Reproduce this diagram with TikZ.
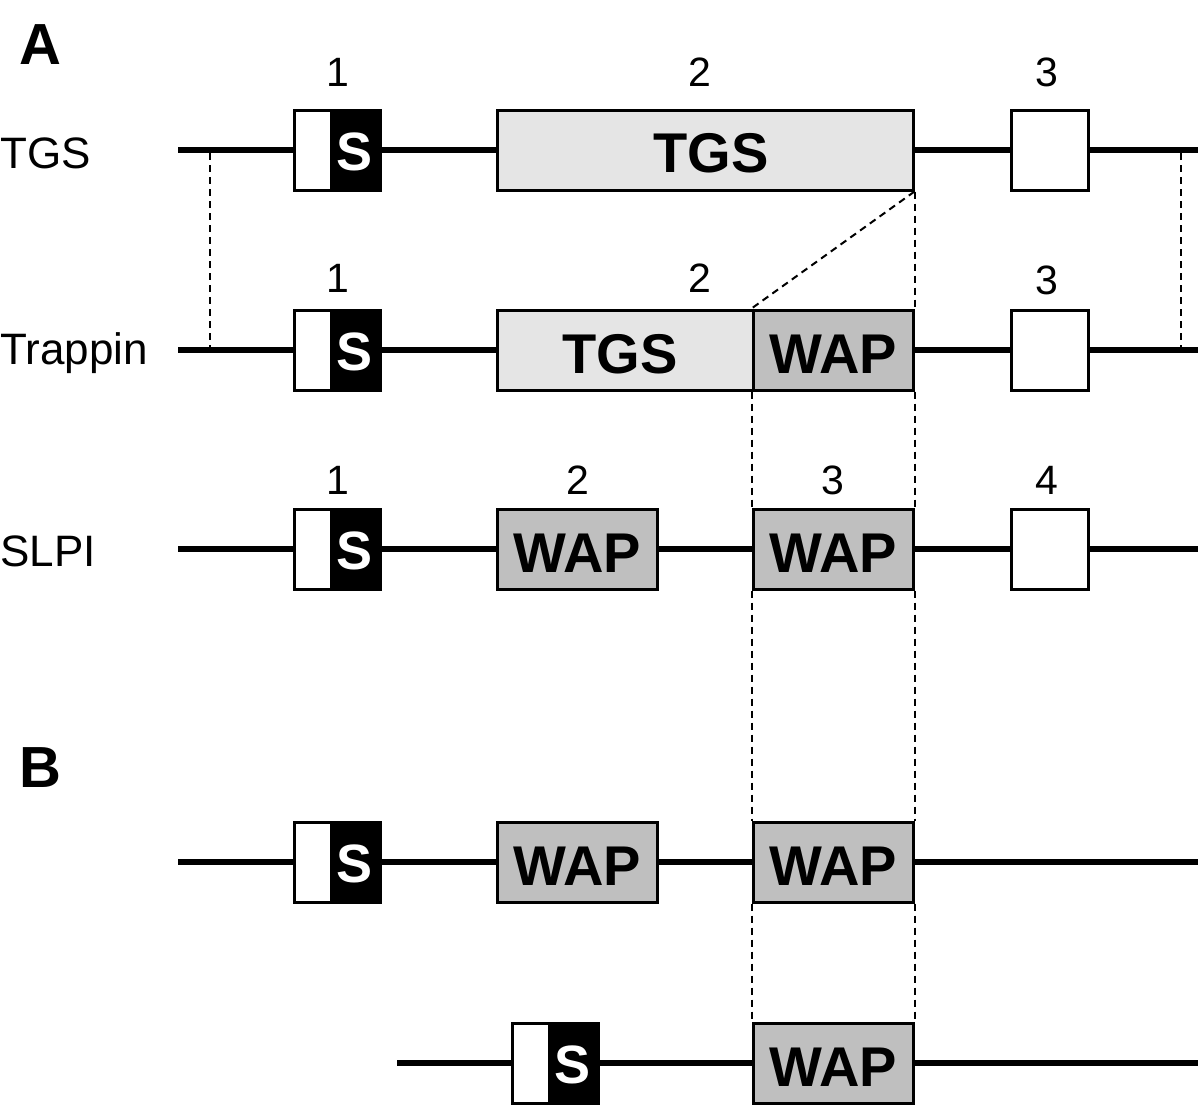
\documentclass[tikz,border=0pt]{standalone}
\usepackage{fontspec}
\setmainfont{Liberation Sans}
\begin{document}
\begin{tikzpicture}[x=1pt,y=-1pt,
  gene/.style={line width=5.5pt},
  bx/.style={draw=black,line width=3pt,inner sep=0pt,minimum height=80pt},
  lgray/.style={bx,fill=black!10},
  dgray/.style={bx,fill=black!25},
  wbox/.style={bx,fill=white},
  sblk/.style={fill=black,text=white,inner sep=0pt,minimum height=80pt,font=\fontsize{54}{54}\selectfont\bfseries},
  dom/.style={font=\fontsize{56}{56}\selectfont\bfseries},
  num/.style={font=\fontsize{41}{41}\selectfont},
  rowlab/.style={font=\fontsize{44}{44}\selectfont,anchor=west,inner sep=0pt},
  panel/.style={font=\fontsize{58}{58}\selectfont\bfseries},
  dsh/.style={line width=2pt,dash pattern=on 7pt off 5pt}]
\useasboundingbox (0,0) rectangle (1200,1111);
\fill[white] (0,0) rectangle (1200,1111);

\node[panel] (pA) at (40,45) {A};
\node[panel] (pB) at (40,768) {B};

% ---------- Row TGS (y=150)
\node[rowlab] (lTGS) at (0,153) {TGS};
\coordinate (t0) at (178,150); \coordinate (t1) at (1198,150);
\draw[gene] (t0) -- (t1);
\node[wbox,minimum width=86pt] (tS) at (337,150) {};
\node[sblk,minimum width=50pt] (tSb) at (355,152) {S};
\draw[line width=3pt] (294,110) rectangle (380,190);
\node[lgray,minimum width=416pt,dom] (tTGS) at (705,150) {};
\node[dom] (tTGSt) at (711,153) {TGS};
\node[wbox,minimum width=77pt] (tE3) at (1049.5,150) {};
\node[num] (n11) at (338,72) {1};
\node[num] (n12) at (700,72) {2};
\node[num] (n13) at (1047,72) {3};

% ---------- Row Trappin (y=350)
\node[rowlab] (lTrap) at (0,353) {Trappin};
\coordinate (r0) at (178,350); \coordinate (r1) at (1198,350);
\draw[gene] (r0) -- (r1);
\node[wbox,minimum width=86pt] (rS) at (337,350) {};
\node[sblk,minimum width=50pt] (rSb) at (355,352) {S};
\draw[line width=3pt] (294,310) rectangle (380,390);
\node[lgray,minimum width=256pt] (rTGS) at (625,350) {};
\node[dom] (rTGSt) at (620,354) {TGS};
\node[dgray,minimum width=160pt,dom] (rWAP) at (833,350) {};
\node[dom] (rWAPt) at (833,354) {WAP};
\node[wbox,minimum width=77pt] (rE3) at (1049.5,350) {};
\node[num] (n21) at (338,278) {1};
\node[num] (n22) at (700,278) {2};
\node[num] (n23) at (1047,280) {3};

% ---------- Row SLPI (y=549)
\node[rowlab] (lSLPI) at (0,551) {SLPI};
\coordinate (s0) at (178,549); \coordinate (s1) at (1198,549);
\draw[gene] (s0) -- (s1);
\node[wbox,minimum width=86pt] (sS) at (337,549) {};
\node[sblk,minimum width=50pt] (sSb) at (355,551) {S};
\draw[line width=3pt] (294,509) rectangle (380,589);
\node[dgray,minimum width=160pt] (sW1) at (577,549) {};
\node[dom] (sW1t) at (577,553) {WAP};
\node[dgray,minimum width=160pt] (sW2) at (833,549) {};
\node[dom] (sW2t) at (833,553) {WAP};
\node[wbox,minimum width=77pt] (sE4) at (1049.5,549) {};
\node[num] (n31) at (338,480) {1};
\node[num] (n32) at (578,480) {2};
\node[num] (n33) at (833,480) {3};
\node[num] (n34) at (1047,480) {4};

% ---------- Row B1 (y=862)
\coordinate (b0) at (178,862); \coordinate (b1) at (1198,862);
\draw[gene] (b0) -- (b1);
\node[wbox,minimum width=86pt] (bS) at (337,862) {};
\node[sblk,minimum width=50pt] (bSb) at (355,864) {S};
\draw[line width=3pt] (294,822) rectangle (380,902);
\node[dgray,minimum width=160pt] (bW1) at (577,862) {};
\node[dom] (bW1t) at (577,866) {WAP};
\node[dgray,minimum width=160pt] (bW2) at (833,862) {};
\node[dom] (bW2t) at (833,866) {WAP};

% ---------- Row B2 (y=1063)
\coordinate (c0) at (397,1063); \coordinate (c1) at (1198,1063);
\draw[gene] (c0) -- (c1);
\node[wbox,minimum width=86pt] (cS) at (555,1063) {};
\node[sblk,minimum width=50pt] (cSb) at (573,1065) {S};
\draw[line width=3pt] (512,1023) rectangle (598,1103);
\node[dgray,minimum width=160pt] (cW) at (833,1063) {};
\node[dom] (cWt) at (833,1067) {WAP};

% ---------- dashed connectors
\draw[dsh] (210,153) -- (210,348);
\draw[dsh] (1181,153) -- (1181,348);
\draw[dsh] (tTGS.south east) -- (rWAP.north west);
\draw[dsh] (tTGS.south east) -- (rWAP.north east);
\draw[dsh] (rWAP.south west) -- (sW2.north west);
\draw[dsh] (rWAP.south east) -- (sW2.north east);
\draw[dsh] (sW2.south west) -- (bW2.north west);
\draw[dsh] (sW2.south east) -- (bW2.north east);
\draw[dsh] (bW2.south west) -- (cW.north west);
\draw[dsh] (bW2.south east) -- (cW.north east);
\end{tikzpicture}
\end{document}
